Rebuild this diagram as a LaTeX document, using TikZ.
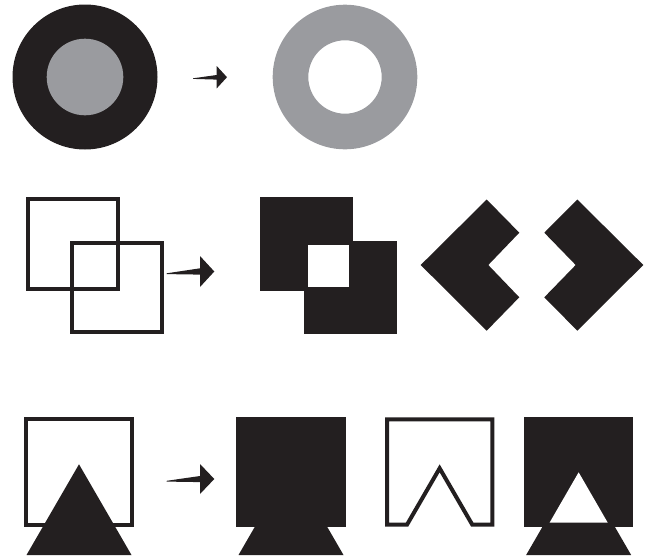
\documentclass[tikz,border=0pt]{standalone}
\definecolor{ink}{HTML}{231F20}
\definecolor{grey}{HTML}{9A9B9F}
\begin{document}
\begin{tikzpicture}[x=1pt,y=-1pt,
  solid fill/.style={fill=ink},
  outline/.style={draw=ink,line width=4pt,miter limit=10},
  arrowshape/.style={fill=ink}]
\useasboundingbox (0,0) rectangle (654,557);
% ---------- row 1 ----------
\fill[ink] (85,77) circle (72.5);
\fill[grey] (85,77) circle (38.3);
\fill[arrowshape] (193,78.3) -- (216.7,75) -- (216.7,66) -- (227,77.2) -- (216.7,88.4) -- (216.7,79.6) -- (193,78.9) -- cycle;
\fill[grey,even odd rule] (345,77) circle (72.3) (345,77) circle (36.7);
% ---------- row 2 ----------
\draw[outline] (28,199) rectangle (117.5,288.5);
\draw[outline] (72,242.5) rectangle (161.5,332);
\fill[arrowshape] (166.7,273.3) -- (200,268.3) -- (200,256) -- (214.3,271.5) -- (200,287) -- (200,274.6) -- (166.7,274.1) -- cycle;
\fill[solid fill] (259.5,197) rectangle (353,290.5);
\fill[solid fill] (303.5,240.5) rectangle (397,334);
\fill[white] (307.5,244.5) rectangle (349,286.5);
\fill[solid fill] (420.7,265) -- (486.7,199.5) -- (519.3,232.7) -- (488.3,265) -- (519.3,297.3) -- (486.7,330.7) -- cycle;
\fill[solid fill] (643.3,265) -- (577.3,199.5) -- (544.3,232.7) -- (575.7,265) -- (544.3,297.3) -- (577.3,330.7) -- cycle;
% ---------- row 3 ----------
\draw[outline] (26,419.3) rectangle (132,524.7);
\fill[solid fill] (79,464.3) -- (131.5,555) -- (26.5,555) -- cycle;
\fill[arrowshape] (166.7,480.8) -- (200,476) -- (200,464) -- (214.3,479) -- (200,494) -- (200,482.1) -- (166.7,481.6) -- cycle;
\fill[solid fill] (236,417.3) rectangle (346,526.7);
\fill[solid fill] (291,464.3) -- (343.5,555) -- (238.5,555) -- cycle;
\draw[outline] (387,524.7) -- (387,419.3) -- (492.3,419.3) -- (492.3,524.7) -- (472.3,524.7) -- (439.65,468.3) -- (407,524.7) -- cycle;
\fill[solid fill] (524,417.3) rectangle (633.3,526.7);
\fill[solid fill] (578.65,464.3) -- (631.15,555) -- (526.15,555) -- cycle;
\fill[white] (578.65,472.3) -- (607.75,522.7) -- (549.55,522.7) -- cycle;
\end{tikzpicture}
\end{document}
